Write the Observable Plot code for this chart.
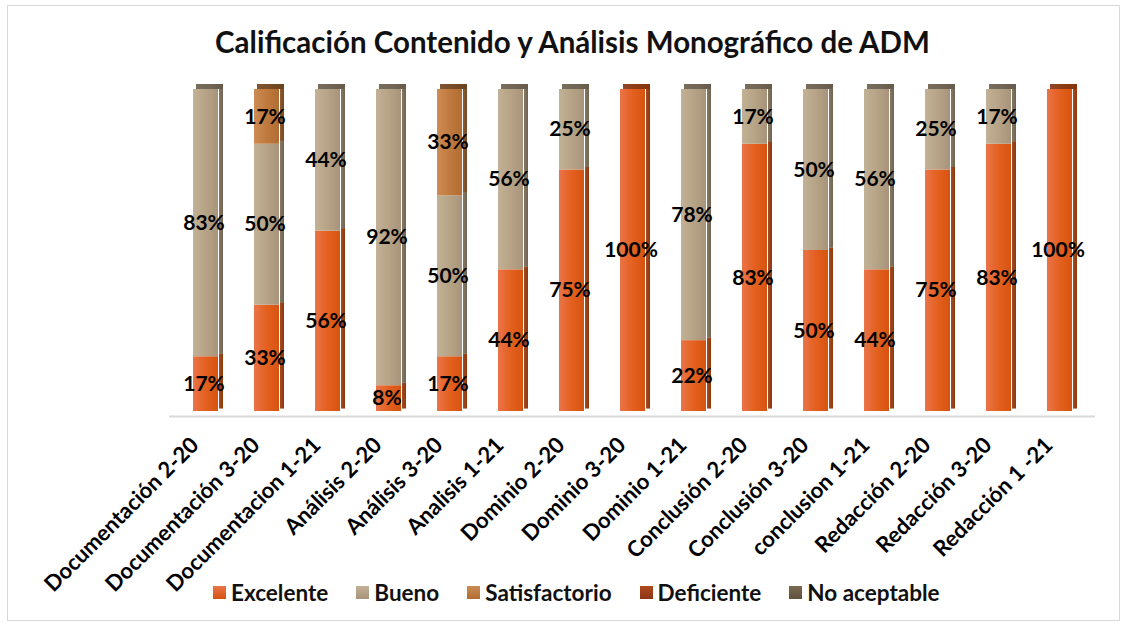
<!DOCTYPE html>
<html>
<head>
<meta charset="utf-8">
<script src="https://cdn.jsdelivr.net/npm/d3@7"></script>
<script src="https://cdn.jsdelivr.net/npm/@observablehq/plot@0.6"></script>
<style>
  html, body { margin: 0; padding: 0; background: #fff; }
  body { width: 1129px; height: 628px; position: relative; overflow: hidden; font-family: Lato, "Open Sans", sans-serif; }
  #frame { position: absolute; left: 7px; top: 5px; width: 1113px; height: 616px; border: 1px solid #d9d9d9; box-sizing: border-box; }
  #title { position: absolute; left: 0; top: 24px; width: 1145px; text-align: center; font-size: 29.5px; font-weight: bold; color: #111; }
  #chart { position: absolute; left: 0; top: 75px; }
  #chart svg { overflow: visible; }
  #legend { position: absolute; left: 213px; top: 579px; display: flex; gap: 28px; font-size: 22.5px; font-weight: bold; color: #111; }
  #legend .item { display: flex; align-items: center; gap: 5px; }
  #legend .sw { width: 13px; height: 13px; display: inline-block; }
</style>
</head>
<body>
<div id="frame"></div>
<div id="title">Calificación Contenido y Análisis Monográfico de ADM</div>
<div id="chart"></div>
<div id="legend"></div>
<script>
const categories = ["Documentación 2-20", "Documentación 3-20", "Documentacion 1-21", "Análisis 2-20", "Análisis 3-20", "Analisis 1-21", "Dominio 2-20", "Dominio 3-20", "Dominio 1-21", "Conclusión 2-20", "Conclusión 3-20", "conclusion 1-21", "Redacción 2-20", "Redacción 3-20", "Redacción 1 -21"];
const series = ["Excelente", "Bueno", "Satisfactorio", "Deficiente", "No aceptable"];
const excelente     = [17, 33, 56, 8, 17, 44, 75, 100, 22, 83, 50, 44, 75, 83, 100];
const bueno         = [83, 50, 44, 92, 50, 56, 25, 0, 78, 17, 50, 56, 25, 17, 0];
const satisfactorio = [0, 17, 0, 0, 33, 0, 0, 0, 0, 0, 0, 0, 0, 0, 0];
const deficiente    = [0, 0, 0, 0, 0, 0, 0, 0, 0, 0, 0, 0, 0, 0, 0];
const noAceptable   = [0, 0, 0, 0, 0, 0, 0, 0, 0, 0, 0, 0, 0, 0, 0];

const seriesValues = [excelente, bueno, satisfactorio, deficiente, noAceptable];
const gradStops = [
  ["#ea7449", "#e3601f", "#d65310"],
  ["#c2b196", "#b7a487", "#a6937a"],
  ["#cc8c55", "#c07a3e", "#b06c33"],
  ["#b04a20", "#a0401a", "#8c3514"],
  ["#7a6a52", "#6e5e48", "#5e503c"]
];
const gradIds = series.map((s, i) => "grad" + i);

// rows with cumulative positions
const rows = [];
const tops = [];
categories.forEach((c, ci) => {
  let acc = 0;
  let topSeries = series[0];
  series.forEach((s, si) => {
    const v = seriesValues[si][ci];
    if (v > 0) {
      rows.push({cat: c, series: s, value: v, y1: acc, y2: acc + v, mid: acc + v / 2});
      topSeries = s;
    }
    acc += v;
  });
  tops.push({cat: c, top: acc, series: topSeries});
});

const plot = Plot.plot({
  width: 1129,
  height: 520,
  marginTop: 14,
  marginBottom: 184,
  marginLeft: 169,
  marginRight: 34,
  x: {domain: categories, padding: 0, label: null},
  y: {domain: [0, 100], axis: null},
  color: {domain: series, range: gradIds.map(id => `url(#${id})`)},
  style: {fontFamily: "Lato, 'Open Sans', sans-serif", fontSize: "22px", fontWeight: "bold", color: "#000"},
  marks: [
    Plot.axisX({tickRotate: -45, tickSize: 0, tickPadding: 16, fontSize: 22, fontWeight: "bold", fill: "#000", dx: -11, dy: 14, label: null}),
    Plot.ruleY([0], {stroke: "#d9d9d9", strokeWidth: 2, dy: 5}),
    // side faces
    Plot.barY(rows, {x: "cat", y1: "y1", y2: "y2", fill: "series", insetLeft: 44, insetRight: 13, dy: -2.5}),
    Plot.barY(rows, {x: "cat", y1: "y1", y2: "y2", fill: "#000", fillOpacity: 0.32, insetLeft: 44, insetRight: 13, dy: -2.5}),
    // front faces
    Plot.barY(rows, {x: "cat", y1: "y1", y2: "y2", fill: "series", insetLeft: 18, insetRight: 18}),
    // top caps
    Plot.barY(tops, {x: "cat", y1: "top", y2: "top", fill: "series", insetLeft: 21, insetRight: 13, insetTop: -5}),
    Plot.barY(tops, {x: "cat", y1: "top", y2: "top", fill: "#000", fillOpacity: 0.38, insetLeft: 21, insetRight: 13, insetTop: -5}),
    // labels
    Plot.text(rows, {x: "cat", y: "mid", text: d => d.value + "%", fill: "#000", fontSize: 21, fontWeight: "bold", dx: -2})
  ]
});

// gradients
const svg = d3.select(plot);
const defs = svg.insert("defs", ":first-child");
gradIds.forEach((id, i) => {
  const g = defs.append("linearGradient").attr("id", id).attr("x1", "0").attr("x2", "1").attr("y1", "0").attr("y2", "0");
  g.append("stop").attr("offset", "0%").attr("stop-color", gradStops[i][0]);
  g.append("stop").attr("offset", "50%").attr("stop-color", gradStops[i][1]);
  g.append("stop").attr("offset", "100%").attr("stop-color", gradStops[i][2]);
});
document.getElementById("chart").appendChild(plot);

// legend
const legend = document.getElementById("legend");
series.forEach((s, i) => {
  const item = document.createElement("div");
  item.className = "item";
  const sw = document.createElement("span");
  sw.className = "sw";
  sw.style.background = `linear-gradient(180deg, ${gradStops[i][0]}, ${gradStops[i][2]})`;
  const t = document.createElement("span");
  t.textContent = s;
  item.appendChild(sw);
  item.appendChild(t);
  legend.appendChild(item);
});
</script>
</body>
</html>
